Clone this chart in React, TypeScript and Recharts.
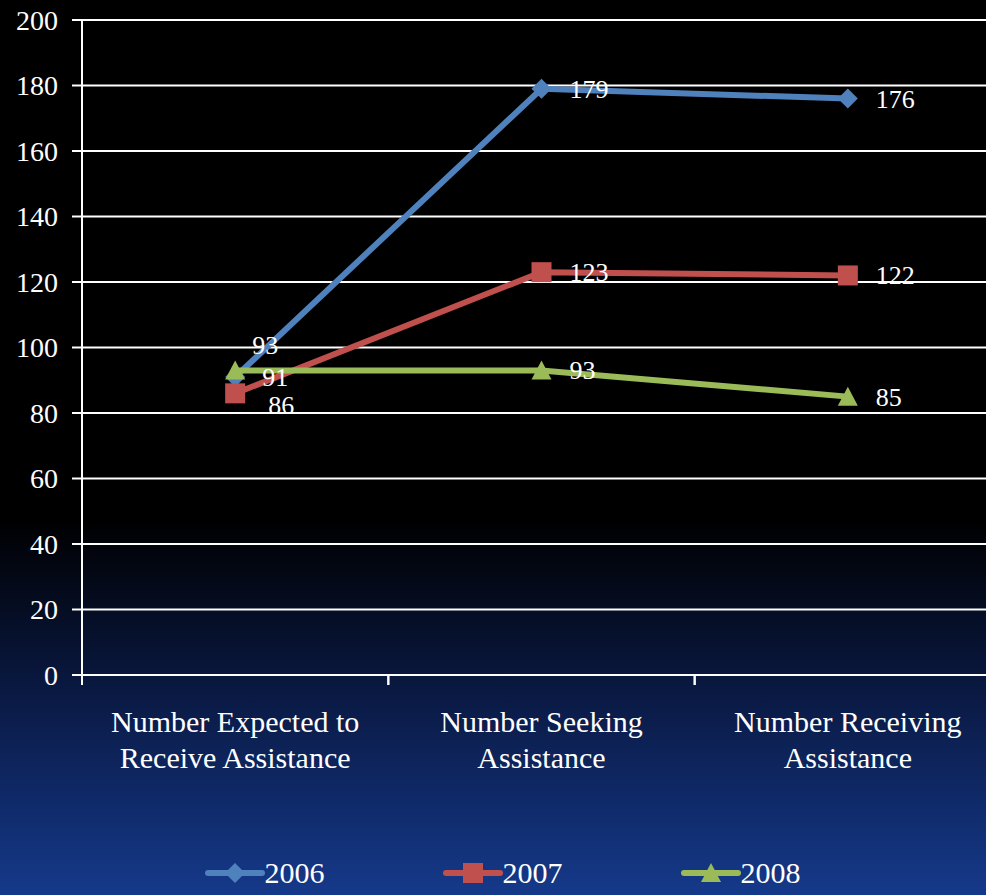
import React from "react";
import { LineChart, Line, XAxis, YAxis, CartesianGrid, Legend, LabelList } from "recharts";

const categories = [
  "Number Expected to\nReceive Assistance",
  "Number Seeking\nAssistance",
  "Number Receiving\nAssistance",
];
const values2006 = [91, 179, 176];
const values2007 = [86, 123, 122];
const values2008 = [93, 93, 85];
const yTicks = [0, 20, 40, 60, 80, 100, 120, 140, 160, 180, 200];

const data = categories.map((name, i) => ({
  name,
  y2006: values2006[i],
  y2007: values2007[i],
  y2008: values2008[i],
}));

const FONT = "'Liberation Serif', 'Noto Serif', 'DejaVu Serif', FreeSerif, 'Nimbus Roman', Times, serif";
const CHART_W = 1010;
const CHART_H = 895;
const LEFT = 82;
const RIGHT = 9;
const HALF_BAND = (CHART_W - LEFT - RIGHT) / categories.length / 2;

type Shape = "diamond" | "square" | "triangle";

const series: { key: string; name: string; color: string; shape: Shape; firstOffset: [number, number] }[] = [
  { key: "y2006", name: "2006", color: "#4F81BD", shape: "diamond", firstOffset: [27, 0] },
  { key: "y2007", name: "2007", color: "#C0504D", shape: "square", firstOffset: [33, 12] },
  { key: "y2008", name: "2008", color: "#9BBB59", shape: "triangle", firstOffset: [17, -25] },
];

function Marker({ cx, cy, shape, color }: { cx: number; cy: number; shape: Shape; color: string }) {
  const r = 10;
  if (shape === "diamond") {
    return <path d={`M${cx},${cy - r} L${cx + r},${cy} L${cx},${cy + r} L${cx - r},${cy} Z`} fill={color} />;
  }
  if (shape === "square") {
    return <rect x={cx - r} y={cy - r} width={r * 2} height={r * 2} fill={color} />;
  }
  return <path d={`M${cx},${cy - r} L${cx + r},${cy + 9} L${cx - r},${cy + 9} Z`} fill={color} />;
}

function XTick(props: any) {
  const { x, y, payload } = props;
  const lines = String(payload.value).split("\n");
  return (
    <g>
      <line x1={x - HALF_BAND} y1={y} x2={x - HALF_BAND} y2={y + 10} stroke="#fff" strokeWidth={2} />
      <line x1={x + HALF_BAND} y1={y} x2={x + HALF_BAND} y2={y + 10} stroke="#fff" strokeWidth={2} />
      {lines.map((l, i) => (
        <text key={i} x={x} y={y + 57 + i * 36} textAnchor="middle" fill="#fff" fontSize={30} style={{ fontFamily: FONT }}>
          {l}
        </text>
      ))}
    </g>
  );
}

function renderLabel(p: any, s: (typeof series)[number]) {
  const [dx, dy] = p.index === 0 ? s.firstOffset : [28, 0];
  return (
    <text
      x={p.x + dx}
      y={p.y + dy}
      dy={9}
      fill="#fff"
      fontSize={26}
      style={{ fontFamily: FONT }}
      textAnchor="start"
    >
      {p.value}
    </text>
  );
}

function LegendContent() {
  return (
    <div style={{ display: "flex", justifyContent: "center", gap: 118, paddingLeft: 4 }}>
      {series.map((s) => (
        <div key={s.key} style={{ display: "flex", alignItems: "center" }}>
          <svg width={60} height={24}>
            <line x1={3} y1={12} x2={57} y2={12} stroke={s.color} strokeWidth={6} strokeLinecap="round" />
            <Marker cx={30} cy={12} shape={s.shape} color={s.color} />
          </svg>
          <span style={{ color: "#fff", fontSize: 30, fontFamily: FONT, lineHeight: "36px" }}>{s.name}</span>
        </div>
      ))}
    </div>
  );
}

export default function App() {
  return (
    <div
      style={{
        position: "absolute",
        left: 0,
        top: 0,
        width: 986,
        height: 895,
        overflow: "hidden",
        fontFamily: FONT,
        background: "linear-gradient(to bottom, #000 0%, #000 58%, #0a1a45 78%, #15398a 100%)",
      }}
    >
      <LineChart width={CHART_W} height={CHART_H} data={data} margin={{ top: 20, right: RIGHT, left: 0, bottom: 0 }}>
        <CartesianGrid vertical={false} stroke="#fff" strokeWidth={2} />
        <XAxis
          dataKey="name"
          scale="band"
          interval={0}
          tickLine={false}
          tickSize={0}
          tickMargin={0}
          height={180}
          axisLine={{ stroke: "#fff", strokeWidth: 2 }}
          tick={<XTick />}
        />
        <YAxis
          width={LEFT}
          domain={[0, 200]}
          ticks={yTicks}
          interval={0}
          tickSize={10}
          tickMargin={14}
          axisLine={{ stroke: "#fff", strokeWidth: 2 }}
          tickLine={{ stroke: "#fff", strokeWidth: 2 }}
          tick={{ fill: "#fff", fontSize: 28, style: { fontFamily: FONT } }}
        />
        <Legend verticalAlign="bottom" height={40} content={<LegendContent />} />
        {series.map((s) => (
          <Line
            key={s.key}
            dataKey={s.key}
            name={s.name}
            type="linear"
            stroke={s.color}
            strokeWidth={6}
            isAnimationActive={false}
            dot={(p: any) => <Marker key={`${s.key}-${p.index}`} cx={p.cx} cy={p.cy} shape={s.shape} color={s.color} />}
            activeDot={false}
          >
            <LabelList dataKey={s.key} content={(p: any) => renderLabel(p, s)} />
          </Line>
        ))}
      </LineChart>
    </div>
  );
}
